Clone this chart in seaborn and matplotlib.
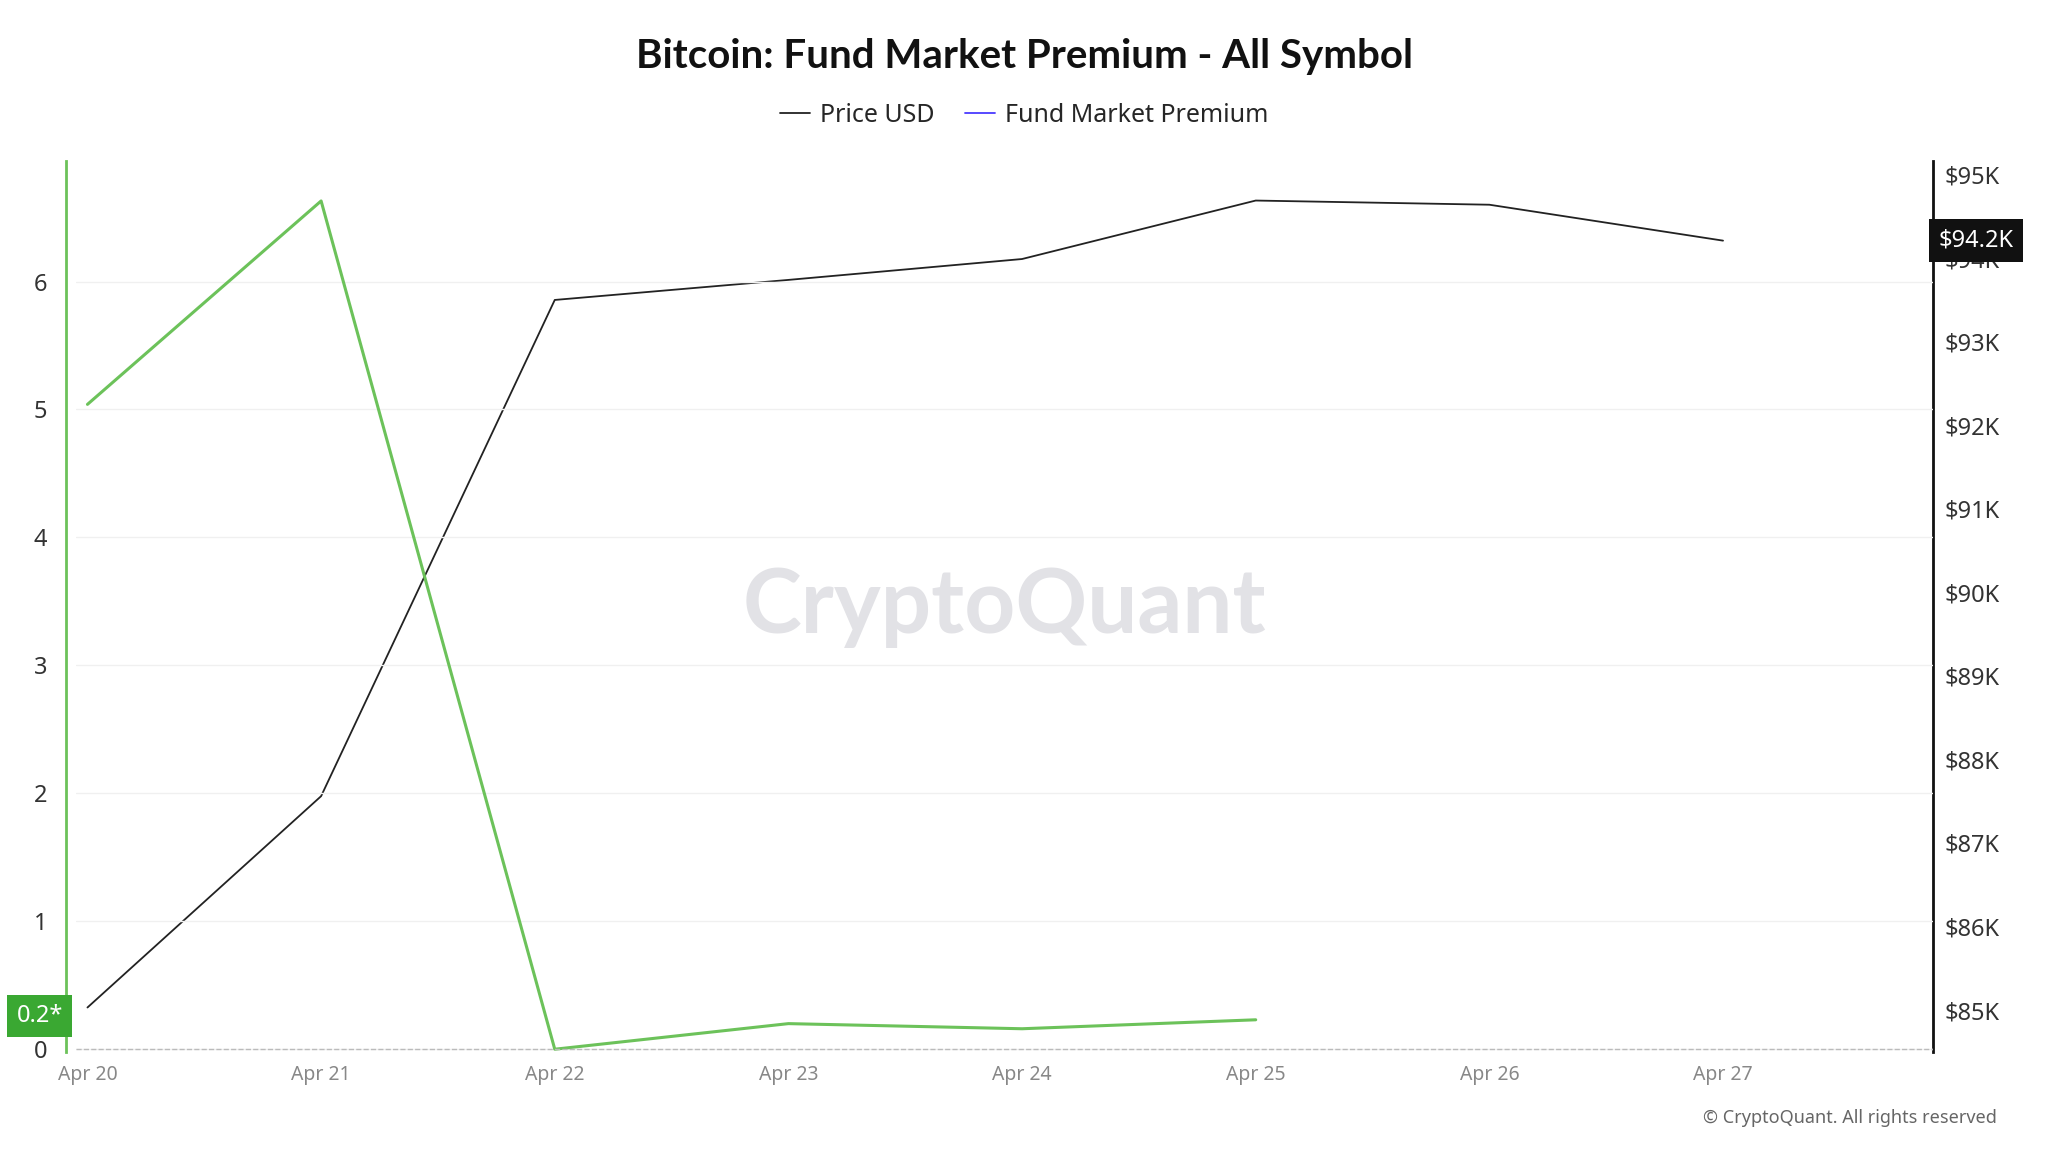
import matplotlib
matplotlib.use("Agg")
import matplotlib.pyplot as plt
import matplotlib.ticker as mticker
import pandas as pd
import seaborn as sns

# ── Data ───────────────────────────────────────────────────────────────────────
days      = ["Apr 20", "Apr 21", "Apr 22", "Apr 23", "Apr 24", "Apr 25", "Apr 26", "Apr 27"]
price_usd = [85030, 87560, 93500, 93740, 93990, 94690, 94640, 94210]
premium   = [5.04, 6.63, 0.0, 0.20, 0.16, 0.23]

GREEN = "#6cc25a"
sns.set_style("white")
plt.rcParams["font.family"] = ["Noto Sans", "Liberation Sans", "DejaVu Sans"]

price_df = pd.DataFrame({"x": range(len(price_usd)), "price": price_usd})
prem_df  = pd.DataFrame({"x": range(len(premium)), "premium": premium})

fig, ax = plt.subplots(figsize=(20.48, 11.52), dpi=100)
fig.subplots_adjust(left=0.037, right=0.944, top=0.86, bottom=0.087)
ax2 = ax.twinx()

sns.lineplot(data=price_df, x="x", y="price", ax=ax2, color="#222222", linewidth=1.3)
sns.lineplot(data=prem_df, x="x", y="premium", ax=ax, color=GREEN, linewidth=2.2)
ax.set_zorder(ax2.get_zorder() + 1)
ax.patch.set_visible(False)

ax.set_xlim(-0.05, 7.9)
ax.set_ylim(-0.02, 6.94)
ax2.set_ylim(84500, 95160)
ax.set_xticks(range(len(days)))
ax.set_xticklabels(days, color="#888888", fontsize=14)
ax.set_yticks(range(0, 7))
ax.tick_params(axis="y", labelsize=17, colors="#333333", length=0, pad=14)
ax.tick_params(axis="x", length=6, color="#cccccc")
ax2.yaxis.set_major_locator(mticker.MultipleLocator(1000))
ax2.yaxis.set_major_formatter(mticker.FuncFormatter(lambda v, _: f"${v/1000:.0f}K"))
ax2.tick_params(axis="y", labelsize=17, colors="#333333", length=0, pad=8)
ax.set_xlabel("")
ax.set_ylabel("")
ax2.set_ylabel("")
ax.grid(axis="y", color="#f0f0f0", linewidth=1)

for a in (ax, ax2):
    for s in a.spines.values():
        s.set_visible(False)
ax.spines["left"].set_visible(True)
ax.spines["left"].set_color(GREEN)
ax.spines["left"].set_linewidth(2)
ax.spines["left"].set_position(("axes", -0.005))
ax2.spines["right"].set_visible(True)
ax2.spines["right"].set_color("#111111")
ax2.spines["right"].set_linewidth(2)
ax.axhline(0, color="#bbbbbb", linestyle="--", linewidth=1)

# value tags
ax.text(-0.007, 0.26, "0.2*", transform=ax.get_yaxis_transform(), ha="right", va="center",
        fontsize=17, color="white", bbox=dict(boxstyle="square,pad=0.4", fc="#3aa832", ec="none"))
ax2.text(1.003, price_usd[-1], "$94.2K", transform=ax2.get_yaxis_transform(), ha="left", va="center",
         fontsize=17, color="white", bbox=dict(boxstyle="square,pad=0.4", fc="#111111", ec="none"))

# watermark
ax.text(0.5, 0.5, "CryptoQuant", transform=ax.transAxes, ha="center", va="center",
        fontsize=64, color="#e2e2e6", fontfamily="Lato", fontweight="bold", zorder=0)

fig.suptitle("Bitcoin: Fund Market Premium - All Symbol", y=0.967, fontsize=29,
             fontfamily="Lato", fontweight="bold", color="#111111")
fig.legend(handles=[plt.Line2D([], [], color="#222222", lw=1.3),
                    plt.Line2D([], [], color="#4a3aff", lw=1.3)],
           labels=["Price USD", "Fund Market Premium"], loc="upper center",
           bbox_to_anchor=(0.5, 0.93), ncol=2, frameon=False, fontsize=18,
           handlelength=1.2, handletextpad=0.4, columnspacing=1.2)
fig.text(0.975, 0.025, "© CryptoQuant. All rights reserved", ha="right", fontsize=13, color="#666666")

plt.savefig("out.png", dpi=100)
